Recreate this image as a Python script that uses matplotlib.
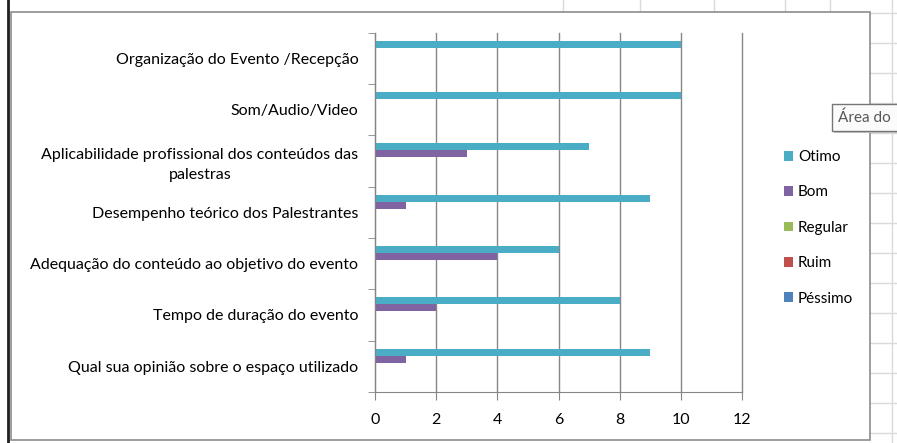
import matplotlib
matplotlib.use('Agg')
import matplotlib.pyplot as plt
from matplotlib.lines import Line2D
from matplotlib.patches import Rectangle, Patch
import numpy as np

# Data
categorias = ['Organização do Evento /Recepção',
              'Som/Audio/Video',
              'Aplicabilidade profissional dos conteúdos das\npalestras',
              'Desempenho teórico dos Palestrantes',
              'Adequação do conteúdo ao objetivo do evento',
              'Tempo de duração do evento',
              'Qual sua opinião sobre o espaço utilizado']
series = ['Otimo', 'Bom', 'Regular', 'Ruim', 'Péssimo']
otimo = [10, 10, 7, 9, 6, 8, 9]
bom = [0, 0, 3, 1, 4, 2, 1]
regular = [0, 0, 0, 0, 0, 0, 0]
ruim = [0, 0, 0, 0, 0, 0, 0]
pessimo = [0, 0, 0, 0, 0, 0, 0]
valores = [otimo, bom, regular, ruim, pessimo]
cores = ['#4BACC6', '#8064A2', '#9BBB59', '#C0504D', '#4F81BD']
xticks = [0, 2, 4, 6, 8, 10, 12]

plt.rcParams['font.family'] = ['Lato', 'DejaVu Sans']

W, H = 897, 443
fig = plt.figure(figsize=(W / 100, H / 100), dpi=100)


def px(x, y):
    return x / W, 1 - y / H


# spreadsheet grid behind the chart
grid_c = '#dadada'
for yy in range(13, 443, 30):
    fig.add_artist(Line2D([870 / W, 1], [1 - yy / H] * 2, color=grid_c, lw=1, zorder=-2))
for xx in [563, 640, 714, 785, 830]:
    fig.add_artist(Line2D([xx / W] * 2, [1 - 0 / H, 1 - 12 / H], color=grid_c, lw=1, zorder=-2))
fig.add_artist(Line2D([892 / W] * 2, [0, 1], color=grid_c, lw=1, zorder=-2))
fig.add_artist(Line2D([8 / W] * 2, [0, 1], color='#202020', lw=2, zorder=-2))

# chart area frame
x0, y0 = px(11, 440)
x1, y1 = px(870, 12)
fig.add_artist(Rectangle((x0, y0), x1 - x0, y1 - y0, transform=fig.transFigure,
                         facecolor='white', edgecolor='#8c8c8c', lw=1.2, zorder=-1))

ax = fig.add_axes([375 / W, 1 - 392 / H, (742 - 375) / W, (392 - 32.6) / H])
ax.set_facecolor('none')
ax.set_zorder(1)

n = len(categorias)
pos = np.arange(n)
h = 0.136
for j, (nome, vals, c) in enumerate(zip(series, valores, cores)):
    ax.barh(pos - 0.344 + h * (j + 0.5), vals, height=h, color=c, lw=0, label=nome, zorder=3)

ax.set_ylim(n - 0.5, -0.5)
ax.set_xlim(0, 12)
ax.set_xticks(xticks)
ax.set_xticklabels([str(v) for v in xticks], fontsize=11.5)
ax.set_yticks(pos)
ax.set_yticklabels(categorias, fontsize=11.5, multialignment='center', linespacing=1.5)
ax.set_yticks(np.arange(n + 1) - 0.5, minor=True)
ax.tick_params(axis='y', which='major', length=0, pad=12)
ax.tick_params(axis='y', which='minor', length=5, color='#868686', direction='out')
ax.tick_params(axis='x', length=6, color='#868686', direction='out', pad=9)
ax.grid(axis='x', color='#868686', lw=1, zorder=1)
for gl in ax.get_xgridlines():
    gl.set_clip_on(False)
for s in ['top', 'right']:
    ax.spines[s].set_visible(False)
for s in ['left', 'bottom']:
    ax.spines[s].set_color('#868686')
    ax.spines[s].set_zorder(4)

handles = [Patch(facecolor=c, edgecolor='none') for c in cores]
fig.legend(handles, series, loc='upper left', bbox_to_anchor=(778 / W, 1 - 144 / H),
           frameon=False, fontsize=11, handlelength=0.6, handleheight=0.6,
           handletextpad=0.3, labelspacing=1.4, borderaxespad=0)

# tooltip
tx0, ty0 = px(832, 131)
tx1, ty1 = px(899, 104)
fig.add_artist(Rectangle((tx0 + 2 / W, ty0 - 2 / H), tx1 - tx0, ty1 - ty0, transform=fig.transFigure,
                         facecolor='#c8c8c8', edgecolor='none', zorder=5))
fig.add_artist(Rectangle((tx0, ty0), tx1 - tx0, ty1 - ty0, transform=fig.transFigure,
                         facecolor='#fbfbfb', edgecolor='#767676', lw=1, zorder=6))
fig.text(838 / W, 1 - 118 / H, 'Área do', fontsize=11, color='#575757', va='center', zorder=7)

fig.savefig('out.png', dpi=100)
